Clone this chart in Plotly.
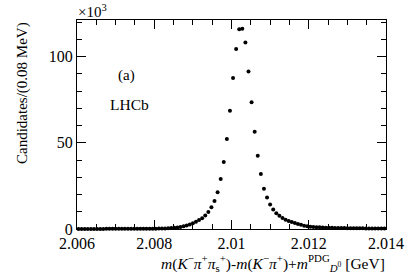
import plotly.graph_objects as go

# Histogram definition (GeV)
x_low = 2.006
x_high = 2.014
bin_width = 0.00008

# Candidates per bin, in units of 10^3
counts = [
    0.05, 0.05, 0.05, 0.06, 0.06, 0.06, 0.07, 0.07, 0.07, 0.08,
    0.08, 0.09, 0.09, 0.10, 0.10, 0.11, 0.11, 0.12, 0.13, 0.14,
    0.15, 0.16, 0.17, 0.18, 0.19, 0.21, 0.24, 0.28, 0.33, 0.42,
    0.52, 0.66, 0.85, 1.15, 1.55, 2.0, 2.6, 3.4, 4.2, 5.2,
    6.3, 7.9, 9.8, 12.6, 16.3, 21.4, 29.0, 38.9, 52.3, 68.7,
    87.6, 104.4, 116.0, 116.2, 108.3, 91.4, 73.5, 56.4, 42.5, 31.9,
    23.4, 18.3, 14.2, 11.3, 9.2, 7.7, 6.4, 5.4, 4.7, 4.1,
    3.5, 2.9, 2.5, 1.9, 1.6, 1.35, 1.2, 1.05, 0.95, 0.85,
    0.78, 0.72, 0.67, 0.62, 0.58, 0.55, 0.52, 0.49, 0.46, 0.44,
    0.42, 0.40, 0.38, 0.36, 0.35, 0.34, 0.33, 0.32, 0.31, 0.30,
]
bin_centers = [x_low + bin_width * (i + 0.5) for i in range(len(counts))]

x_tickvals = [2.006, 2.008, 2.010, 2.012, 2.014]
x_ticktext = ["2.006", "2.008", "2.01", "2.012", "2.014"]
y_tickvals = [0, 50, 100]
y_ticktext = ["0", "50", "100"]

FONT = "Liberation Serif"
W, H = 407, 277
L, R, T, B = 77, 21, 20, 48
pw, ph = W - L - R, H - T - B


def px_to_paper(px, py):
    return (px - L) / pw, (H - B - py) / ph


fig = go.Figure()
fig.add_trace(go.Scatter(
    x=bin_centers, y=counts, mode="markers",
    marker=dict(color="black", size=4, line=dict(width=0)),
    showlegend=False, cliponaxis=False,
))

fig.update_layout(
    width=W, height=H,
    margin=dict(l=L, r=R, t=T, b=B, autoexpand=False),
    paper_bgcolor="white", plot_bgcolor="white",
    font=dict(family=FONT, size=16, color="black"),
)
fig.update_xaxes(
    range=[x_low, x_high], tickvals=x_tickvals, ticktext=x_ticktext,
    ticks="inside", ticklen=9, tickcolor="black", tickwidth=1,
    showline=True, linecolor="black", linewidth=1, mirror="ticks",
    showgrid=False, zeroline=False,
    minor=dict(dtick=0.0005, tick0=2.006, ticks="inside", ticklen=5, tickcolor="black", showgrid=False),
    tickfont=dict(family=FONT, size=16),
)
fig.update_yaxes(
    range=[0, 121.3], tickvals=y_tickvals, ticktext=y_ticktext,
    ticks="inside", ticklen=9, tickcolor="black", tickwidth=1,
    showline=True, linecolor="black", linewidth=1, mirror="ticks",
    showgrid=False, zeroline=False,
    minor=dict(dtick=10, tick0=0, ticks="inside", ticklen=5, tickcolor="black", showgrid=False),
    tickfont=dict(family=FONT, size=16),
)

ann = []
x0, y0 = px_to_paper(76, 11)
ann.append(dict(text="×10<sup>3</sup>", x=x0, y=y0, xanchor="left", yanchor="middle",
                font=dict(size=15)))
x0, y0 = px_to_paper(22, 20)
ann.append(dict(text="Candidates/(0.08 MeV)", x=x0, y=y0, xanchor="center", yanchor="top",
                textangle=-90, font=dict(size=15)))
x0, y0 = px_to_paper(126, 75)
ann.append(dict(text="(a)", x=x0, y=y0, xanchor="center", yanchor="middle", font=dict(size=15)))
x0, y0 = px_to_paper(129, 104)
ann.append(dict(text="LHCb", x=x0, y=y0, xanchor="center", yanchor="middle", font=dict(size=15.5)))
x0, y0 = px_to_paper(387, 263)
ann.append(dict(
    text="<i>m</i>(<i>K</i><sup>−</sup><i>π</i><sup>+</sup><i>π</i><sub>s</sub><sup>+</sup>)-<i>m</i>(<i>K</i><sup>−</sup><i>π</i><sup>+</sup>)+<i>m</i><sup>PDG</sup><sub><i>D</i><sup>0</sup></sub> [GeV]",
    x=x0, y=y0, xanchor="right", yanchor="middle", font=dict(size=15.5)))
for a in ann:
    a.update(xref="paper", yref="paper", showarrow=False)
fig.update_layout(annotations=ann)

fig.write_html("out.html", config={"displayModeBar": False},
               post_script="document.body.style.margin='0';")
